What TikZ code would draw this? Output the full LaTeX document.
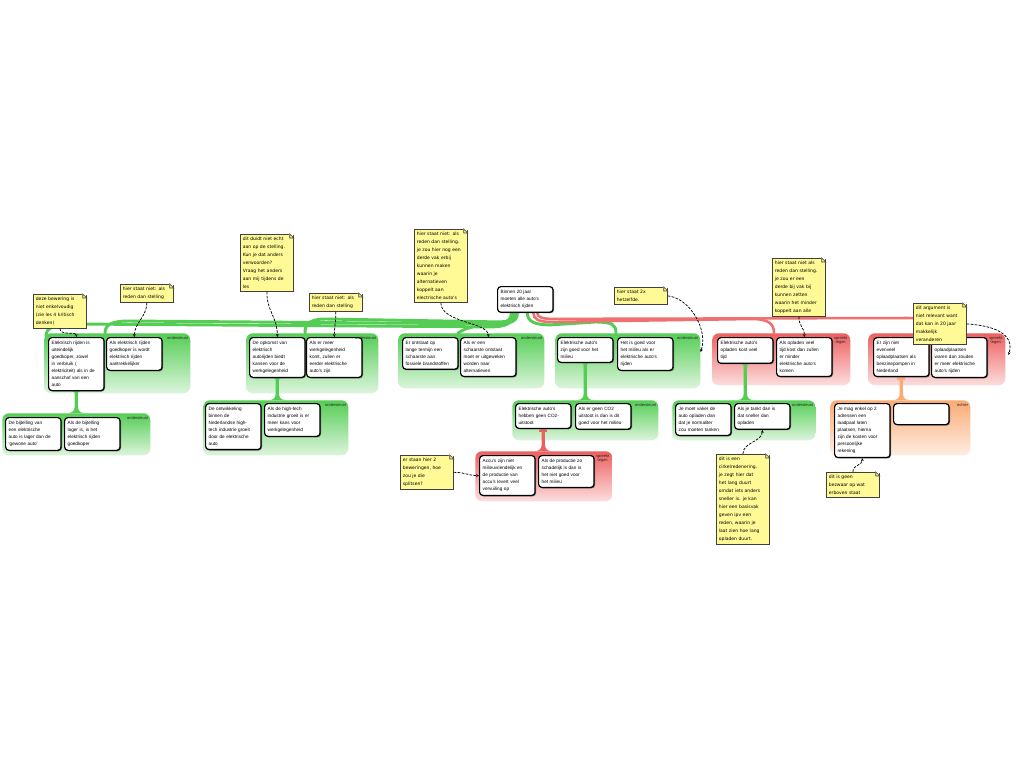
\documentclass[tikz,border=0pt]{standalone}
\usepackage{fontspec}
\setmainfont{Liberation Sans}
\newfontfamily\notefont{DejaVu Sans}
\usetikzlibrary{calc,arrows.meta,shadows,backgrounds}
\definecolor{gc}{RGB}{85,205,85}
\definecolor{rc}{RGB}{238,95,95}
\definecolor{oc}{RGB}{250,170,115}
\definecolor{nc}{RGB}{255,250,150}
\pgfdeclareverticalshading{shG}{100bp}{color(0bp)=(white); color(12bp)=(white); color(75bp)=(gc); color(100bp)=(gc)}
\pgfdeclareverticalshading{shR}{100bp}{color(0bp)=(white); color(12bp)=(white); color(75bp)=(rc); color(100bp)=(rc)}
\pgfdeclareverticalshading{shO}{100bp}{color(0bp)=(white); color(12bp)=(white); color(75bp)=(oc); color(100bp)=(oc)}
\tikzset{
  box/.style={draw=black, line width=0.9pt, fill=white, rounded corners=2.5pt,
    text width=37pt, inner xsep=2.3pt, inner ysep=2.7pt, align=left,
    font=\fontsize{3.5}{5.3}\selectfont, anchor=north west,
    drop shadow={shadow xshift=0.7pt, shadow yshift=-0.7pt, fill=black!70, opacity=0.8}},
  note/.style={fill=nc, draw=black!75, line width=0.5pt, text width=36pt,
    inner xsep=1.9pt, inner ysep=2.1pt, align=left,
    font=\notefont\fontsize{3.4}{6}\selectfont, anchor=north west,
    drop shadow={shadow xshift=0.7pt, shadow yshift=-0.7pt, fill=black!60, opacity=0.8}},
  grp/.style={inner sep=0pt, anchor=north west, rounded corners=5pt, shade},
  glab/.style={font=\fontsize{3}{3.6}\selectfont, inner sep=0pt, align=center, text=black!85, anchor=north east},
  gline/.style={draw=gc, line width=2.2pt, line cap=round},
  rline/.style={draw=rc!90, line width=1.9pt, line cap=round},
  nconn/.style={draw=black, dash pattern=on 2pt off 1pt, line width=0.55pt, -{Stealth[length=2.2pt,width=2pt]}}
}
\newcommand{\dogear}[1]{%
  \fill[white] ($(#1.north east)+(-5,1)$) -- ($(#1.north east)+(1.5,1)$) -- ($(#1.north east)+(1.5,-5.5)$) -- ($(#1.north east)+(1,-5)$) -- cycle;
  \filldraw[fill=nc, draw=black!75, line width=0.5pt] ($(#1.north east)+(-4,0)$) -- ($(#1.north east)+(-4,4)$) -- ($(#1.north east)+(0,4)$) -- cycle;
}
\newcommand{\stemto}[3]{%
  \fill[#1] ($(#2)+(-4,0)$) .. controls ($(#2)+(-2,0)$) and ($(#2)+(-1.6,1)$) .. ($(#2)+(-1.6,3)$)
    -- ($(#3)+(-1.6,-7)$) .. controls ($(#3)+(-1.6,-2)$) and ($(#3)+(-4,0)$) .. ($(#3)+(-8,0)$)
    -- ($(#3)+(8,0)$) .. controls ($(#3)+(4,0)$) and ($(#3)+(1.6,-2)$) .. ($(#3)+(1.6,-7)$)
    -- ($(#2)+(1.6,3)$) .. controls ($(#2)+(1.6,1)$) and ($(#2)+(2,0)$) .. ($(#2)+(4,0)$) -- cycle;
}
\begin{document}
\begin{tikzpicture}[x=0.75pt,y=-0.75pt]
\useasboundingbox (0,0) rectangle (1024,768);

% ---------- boxes ----------
\node[box] (root) at (497,286) {Binnen 20 jaar\\moeten alle auto's\\elektrisch rijden};

\node[box] (a1) at (48,337) {Elektrisch rijden is\\uiteindelijk\\goedkoper, zowel\\in verbruik (\\elektriciteit) als in de\\aanschaf van een\\auto};
\node[box] (a2) at (106,337) {Als elektrisch rijden\\goedkoper is wordt\\elektrisch rijden\\aantrekkelijker};
\node[box] (p1) at (5,417) {De bijtelling van\\een elektrische\\auto is lager dan de\\`gewone auto'};
\node[box] (p2) at (64,417) {Als de bijtelling\\lager is, is het\\elektrisch rijden\\goedkoper};

\node[box] (b1) at (249,337) {De opkomst van\\elektrisch\\autorijden biedt\\kansen voor de\\werkgelegenheid};
\node[box] (b2) at (306,337) {Als er meer\\werkgelegenheid\\komt, zullen er\\eerder elektrische\\auto's zijn};
\node[box] (q1) at (205,403) {De ontwikkeling\\binnen de\\Nederlandse high-\\tech industrie groeit\\door de elektrische\\auto};
\node[box] (q2) at (264,403) {Als de high-tech\\industrie groeit is er\\meer kans voor\\werkgelegenheid};

\node[box] (c1) at (402,337) {Er ontstaat op\\lange termijn een\\schaarste aan\\fossiele brandstoffen};
\node[box] (c2) at (460,337) {Als er een\\schaarste ontstaat\\moet er uitgeweken\\worden naar\\alternatieven};

\node[box] (d1) at (557,337) {Elektrische auto's\\zijn goed voor het\\milieu};
\node[box] (d2) at (617,337) {Het is goed voor\\het milieu als er\\elektrische auto's\\rijden};
\node[box] (r1) at (515,403) {Elektrische auto's\\hebben geen CO2-\\uitstoot};
\node[box] (r2) at (575,403) {Als er geen CO2\\uitstoot is dan is dit\\goed voor het milieu};
\node[box] (h1) at (479,455) {Accu's zijn niet\\milieuvriendelijk en\\de productie van\\accu's levert veel\\vervuiling op};
\node[box] (h2) at (538,455) {Als de productie zo\\schadelijk is dan is\\het niet goed voor\\het milieu};

\node[box] (e1) at (717,337) {Elektrische auto's\\opladen kost veel\\tijd};
\node[box] (e2) at (776,337) {Als opladen veel\\tijd kost dan zullen\\er minder\\elektrische auto's\\komen};
\node[box] (i1) at (675,403) {Je moet vaker de\\auto opladen dan\\dat je normaliter\\zou moeten tanken};
\node[box] (i2) at (734,403) {Als je tankt dan is\\dat sneller dan\\opladen};

\node[box] (f1) at (873,337) {Er zijn niet\\evenveel\\oplaadplaatsen als\\benzinepompen in\\Nederland};
\node[box] (f2) at (931,337) {Als er meer\\oplaadplaatsen\\waren dan zouden\\er meer elektrische\\auto's rijden};
\node[box] (j1) at (834,403) {Je mag enkel op 2\\adressen een\\laadpaal laten\\plaatsen, hierna\\zijn de kosten voor\\persoonlijke\\rekening};
\node[box, minimum height=15.75pt] (j2) at (893,403) {};

% ---------- background: groups, stems, main connectors ----------
\begin{pgfonlayer}{background}
\fill[white] (0,0) rectangle (1024,768);
\node[grp, shading=shG, minimum width=146*0.75pt, minimum height=60*0.75pt] (g1) at (44,333) {};
\node[grp, shading=shG, minimum width=148*0.75pt, minimum height=42*0.75pt] (g1a) at (2,413) {};
\node[grp, shading=shG, minimum width=132*0.75pt, minimum height=60*0.75pt] (g2) at (246,333) {};
\node[grp, shading=shG, minimum width=145*0.75pt, minimum height=55*0.75pt] (g2a) at (203,400) {};
\node[grp, shading=shG, minimum width=146*0.75pt, minimum height=55*0.75pt] (g3) at (398,333) {};
\node[grp, shading=shG, minimum width=145*0.75pt, minimum height=55*0.75pt] (g4) at (555,333) {};
\node[grp, shading=shG, minimum width=146*0.75pt, minimum height=40*0.75pt] (g4a) at (512,400) {};
\node[grp, shading=shR, minimum width=137*0.75pt, minimum height=50*0.75pt] (g4b) at (475,451) {};
\node[grp, shading=shR, minimum width=138*0.75pt, minimum height=52*0.75pt] (g5) at (712,333) {};
\node[grp, shading=shG, minimum width=143*0.75pt, minimum height=40*0.75pt] (g5a) at (672,400) {};
\node[grp, shading=shR, minimum width=137*0.75pt, minimum height=52*0.75pt] (g6) at (868,333) {};
\node[grp, shading=shO, minimum width=140*0.75pt, minimum height=55*0.75pt] (g6a) at (830,400) {};

% stems
\coordinate (s1t) at (a1.south); \coordinate (s1b) at (a1.south |- g1a.north);
\coordinate (s2t) at (b1.south); \coordinate (s2b) at (b1.south |- g2a.north);
\coordinate (s3t) at (d1.south); \coordinate (s3b) at (d1.south |- g4a.north);
\coordinate (s4t) at (r1.south); \coordinate (s4b) at (r1.south |- g4b.north);
\coordinate (s5t) at (e1.south); \coordinate (s5b) at (e1.south |- g5a.north);
\coordinate (s6t) at (f1.south); \coordinate (s6b) at (f1.south |- g6a.north);
\stemto{gc}{s1t}{s1b}
\stemto{gc}{s2t}{s2b}
\stemto{gc}{s3t}{s3b}
\stemto{rc}{s4t}{s4b}
\draw[rc, line width=1pt] ($(s4t)+(-4,2)$) -- ($(s4t)+(4,2)$);
\stemto{gc}{s5t}{s5b}
\stemto{oc}{s6t}{s6b}
\draw[oc, line width=1pt] ($(s6t)+(-4,2)$) -- ($(s6t)+(4,2)$);

% main connectors from the root
\draw[gline] ($(root.south)+(-12,0)$) .. controls +(0,11) and +(15,0) .. ($(root.south)+(-35,14)$)
   -- ($(g1.north west)+(30,-9)$) .. controls +(-20,0) and +(0,-8) .. ($(g1.north west)+(2,3)$);
\draw[gline] ($(root.south)+(-8,0)$) .. controls +(0,9) and +(15,0) .. ($(root.south)+(-30,11)$)
   -- ($(g1.north west)+(85,-12)$) .. controls +(-18,0) and +(0,-8) .. ($(g1.north west)+(61,0)$);
\draw[gline] ($(root.south)+(-10,0)$) .. controls +(0,7) and +(12,0) .. ($(root.south)+(-28,9)$)
   -- ($(g2.north west)+(80,-14)$) .. controls +(-18,0) and +(0,-8) .. ($(g2.north west)+(59,0)$);
\draw[gline] ($(root.south)+(-14,0)$) .. controls +(0,18) and +(20,-14) .. ($(g3.north west)+(60,0)$);
\draw[gline] ($(root.south)+(2,0)$) .. controls +(0,9) and +(-15,0) .. ($(root.south)+(25,12)$)
   -- ($(g4.north west)+(40,-11)$) .. controls +(18,0) and +(0,-8) .. ($(g4.north west)+(61,0)$);
\draw[rline] ($(root.south)+(8,0)$) .. controls +(0,6) and +(-12,0) .. ($(root.south)+(25,9)$)
   -- ($(g5.north west)+(40,-14)$) .. controls +(18,0) and +(0,-8) .. ($(g5.north west)+(62,0)$);
\draw[rline] ($(root.south)+(12,0)$) .. controls +(0,4) and +(-12,0) .. ($(root.south)+(28,6)$)
   -- ($(g6.north west)+(40,-15)$) .. controls +(18,0) and +(0,-8) .. ($(g6.north west)+(62,0)$);
\end{pgfonlayer}

% ---------- group labels ----------
\node[glab] (l1) at ($(g1.north east)+(-2,3)$) {ondersteunt};
\node[glab] (l1a) at ($(g1a.north east)+(-2,3)$) {ondersteunt};
\node[glab] (l2) at ($(g2.north east)+(-2,3)$) {ondersteunt};
\node[glab] (l2a) at ($(g2a.north east)+(-2,3)$) {ondersteunt};
\node[glab] (l3) at ($(g3.north east)+(-2,3)$) {ondersteunt};
\node[glab] (l4) at ($(g4.north east)+(-2,3)$) {ondersteunt};
\node[glab] (l4a) at ($(g4a.north east)+(-2,3)$) {ondersteunt};
\node[glab] (l4b) at ($(g4b.north east)+(-3,3)$) {spreekt\\tegen};
\node[glab] (l5) at ($(g5.north east)+(-3,3)$) {spreekt\\tegen};
\node[glab] (l5a) at ($(g5a.north east)+(-2,3)$) {ondersteunt};
\node[glab] (l6) at ($(g6.north east)+(-3,3)$) {spreekt\\tegen};
\node[glab] (l6a) at ($(g6a.north east)+(-2,3)$) {echter};

% ---------- notes ----------
\node[note] (n1) at (33,294) {deze bewering is\\niet enkelvoudig\\(zie les 4 kritisch\\denken)};
\dogear{n1}
\node[note] (n2) at (120,284) {hier staat niet: als\\reden dan stelling};
\dogear{n2}
\node[note] (n3) at (240,234) {dit duidt niet echt\\aan op de stelling.\\Kun je dat anders\\verwoorden?\\Vraag het anders\\aan mij tijdens de\\les};
\dogear{n3}
\node[note] (n4) at (309,293) {hier staat niet: als\\reden dan stelling};
\dogear{n4}
\node[note] (n5) at (414,229) {hier staat niet: als\\reden dan stelling.\\je zou hier nog een\\derde vak erbij\\kunnen maken\\waarin je\\alternatieven\\koppelt aan\\electrische auto's};
\dogear{n5}
\node[note] (n6) at (400,455) {er staan hier 2\\beweringen, hoe\\zou je die\\splitsen?};
\dogear{n6}
\node[note] (n7) at (614,287) {hier staat 2x\\hetzelfde.};
\dogear{n7}
\node[note] (n8) at (772,258) {hier staat niet als\\reden dan stelling.\\je zou er een\\derde bij vak bij\\kunnen zetten\\waarin het minder\\koppelt aan alle};
\dogear{n8}
\node[note] (n9) at (716,454) {dit is een\\cirkelredenering.\\je zegt hier dat\\het lang duurt\\omdat iets anders\\sneller is. je kan\\hier een basisvak\\geven ipv een\\reden, waarin je\\laat zien hoe lang\\opladen duurt.};
\dogear{n9}
\node[note] (n10) at (913,303) {dit argument is\\niet relevant want\\dat kan in 20 jaar\\makkelijk\\veranderen};
\dogear{n10}
\node[note] (n11) at (826,472) {dit is geen\\bezwaar op wat\\erboven staat};
\dogear{n11}

% ---------- note connectors ----------
\draw[nconn] (n1.south) .. controls +(0,8) and +(0,-6) .. (a1.north);
\draw[nconn] (n2.south) .. controls +(0,14) and +(0,-14) .. (a2.north);
\draw[nconn] (n3.south) .. controls +(0,20) and +(0,-20) .. (b1.north);
\draw[nconn] (n4.south) .. controls +(0,10) and +(0,-10) .. (b2.north);
\draw[nconn] (n5.south) .. controls +(0,20) and +(0,-15) .. (c2.north);
\draw[nconn] (n6.east) .. controls +(12,0) and +(-12,0) .. (h1.west);
\draw[nconn] (n7.east) .. controls +(22,2) and +(8,-22) .. ($(g4.north east)+(0,19)$);
\draw[nconn] (n8.south) .. controls +(0,10) and +(0,-10) .. (e2.north);
\draw[nconn] (n9.north) .. controls +(0,-12) and +(0,12) .. (i2.south);
\draw[nconn] (n10.east) .. controls +(30,2) and +(6,-20) .. ($(g6.north east)+(3,22)$);
\draw[nconn] (n11.north) .. controls +(0,-8) and +(0,8) .. (j1.south);
\end{tikzpicture}
\end{document}
